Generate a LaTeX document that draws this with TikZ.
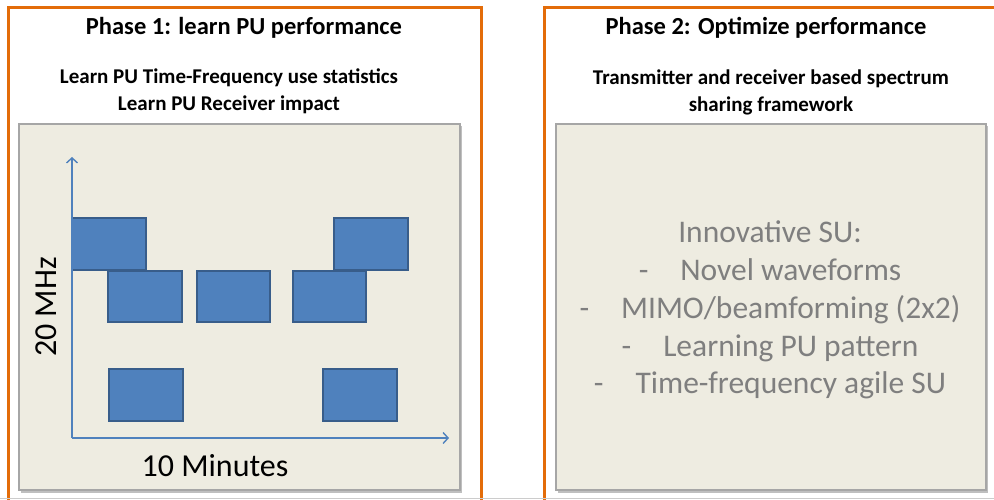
\documentclass[tikz,border=0pt]{standalone}
\usepackage{fontspec}
\setmainfont{Carlito}
\usetikzlibrary{arrows.meta,shadows}
\definecolor{frameorange}{HTML}{E36C09}
\definecolor{panelfill}{HTML}{EEECE1}
\definecolor{panelline}{HTML}{A6A6A6}
\definecolor{pufill}{HTML}{4F81BD}
\definecolor{puline}{HTML}{385D8A}
\definecolor{sutext}{HTML}{7F7F7F}
\tikzset{
  phaseframe/.style={draw=frameorange, line width=3pt},
  panel/.style={draw=panelline, line width=1.5pt, fill=panelfill,
    drop shadow={shadow xshift=2pt, shadow yshift=-2.5pt, fill=black, opacity=0.25}},
  pubox/.style={draw=puline, line width=2pt, fill=pufill},
  axis/.style={draw=pufill, line width=1.4pt, -{Straight Barb[length=5pt,width=11pt,line width=1.4pt]}},
  titletext/.style={font=\bfseries\fontsize{24.5}{29}\selectfont, text=black, inner sep=0pt},
  subtext/.style={font=\bfseries\fontsize{21}{27}\selectfont, text=black, align=center, inner sep=0pt},
  axislabel/.style={font=\fontsize{32}{38}\selectfont, text=black, inner sep=0pt},
  suline/.style={font=\fontsize{31.5}{38}\selectfont, text=sutext, inner sep=0pt, anchor=base}
}
\begin{document}
\begin{tikzpicture}[x=1pt, y=-1pt]
  \useasboundingbox (0,0) rectangle (994,500);
  \clip (0,0) rectangle (994,500);
  \fill[white] (0,0) rectangle (994,500);

  % phase frames (open at the bottom edge)
  \draw[phaseframe] (8.5,7.5) rectangle (481.5,520);
  \draw[phaseframe] (544.5,7.5) rectangle (1010,520);
  \draw[black!20, line width=0.8pt] (0,498.8) -- (994,498.8);

  % phase 1 headings
  \node[titletext] (t1) at (244,28) {Phase 1: learn PU performance};
  \node[subtext] (s1) at (229,91) {Learn PU Time-Frequency use statistics\\Learn PU Receiver impact};

  % phase 2 headings
  \node[titletext] (t2) at (766,28) {Phase 2: Optimize performance};
  \node[subtext] (s2) at (771,92) {Transmitter and receiver based spectrum\\sharing framework};

  % panels
  \draw[panel] (19,124) rectangle (460,490);
  \draw[panel] (556,124) rectangle (986,490);

  % time-frequency axes
  \coordinate (origin) at (72,438);
  \coordinate (ftop) at (72,157);
  \coordinate (tend) at (449,438);

  % PU occupancy blocks
  \draw[pubox] (72,218) rectangle (146,270);
  \draw[pubox] (108,271) rectangle (182,322);
  \draw[pubox] (197,271) rectangle (270,322);
  \draw[pubox] (293,271) rectangle (366,322);
  \draw[pubox] (334,218) rectangle (408,270);
  \draw[pubox] (109,369) rectangle (183,421);
  \draw[pubox] (323,369) rectangle (397,421);

  \draw[axis] (origin) -- (ftop);
  \draw[axis] (origin) -- (tend);

  \node[axislabel, rotate=90] (flabel) at (46,307) {20 MHz};
  \node[axislabel] (tlabel) at (215,466) {10 Minutes};

  % secondary user features
  \node[suline] (su0) at (770,242) {Innovative SU:};
  \node[suline] (su1) at (770,280) {-\hspace{32pt}Novel waveforms};
  \node[suline] (su2) at (770,318) {-\hspace{32pt}MIMO/beamforming (2x2)};
  \node[suline] (su3) at (770,356) {-\hspace{32pt}Learning PU pattern};
  \node[suline] (su4) at (770,393) {-\hspace{32pt}Time-frequency agile SU};
\end{tikzpicture}
\end{document}
